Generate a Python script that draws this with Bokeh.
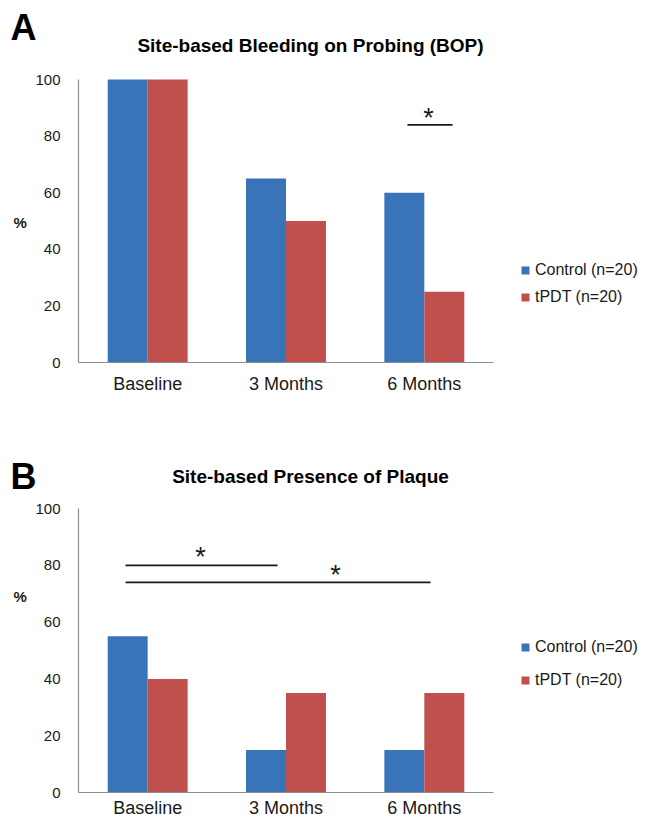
from bokeh.plotting import figure
from bokeh.layouts import column
from bokeh.models import (Range1d, Label, Legend, LegendItem, LinearAxis,
                          ColumnDataSource, FixedTicker)
from bokeh.core.properties import value
from bokeh.embed import file_html
from bokeh.resources import INLINE

# ---- data ----
categories = ["Baseline", "3 Months", "6 Months"]
series_names = ["Control (n=20)", "tPDT (n=20)"]
bop_control = [100, 65, 60]
bop_tpdt = [100, 50, 25]
plaque_control = [55, 15, 15]
plaque_tpdt = [40, 35, 35]
y_ticks = [0, 20, 40, 60, 80, 100]

# significance brackets: from category, to category, level (%)
bop_sig_from = ["6 Months"]
bop_sig_to = ["6 Months"]
bop_sig_level = [84]
bop_star_cat = ["6 Months"]
bop_star_level = [91.5]

plaque_sig_from = ["Baseline", "Baseline"]
plaque_sig_to = ["3 Months", "6 Months"]
plaque_sig_level = [80, 74]
plaque_star_cat = ["Baseline", "3 Months"]
plaque_star_level = [88, 81.7]

BLUE = "#3A74B8"
RED = "#C0504D"
AXIS = "#8E8E8E"
TXT = "#1a1a1a"
FONT = "Liberation Sans"

W = 652
PX_PER_CAT = 138.33   # horizontal size of one category
ORIGIN_X = 78         # pixel of the value axis


def make_chart(ctrl, tpdt, title, letter, height, origin_y, px_per_unit,
               legend_y, legend_spacing, sig, stars, letter_y, title_y, pct_y,
               xlabel_standoff):
    # frame covers the whole canvas; axes are placed at fixed locations
    x0 = -ORIGIN_X / PX_PER_CAT
    y0 = -(height - origin_y) / px_per_unit
    p = figure(x_range=Range1d(x0, x0 + W / PX_PER_CAT),
               y_range=Range1d(y0, y0 + height / px_per_unit),
               width=W, height=height, min_border=0, title=None,
               x_axis_location=None, y_axis_location=None,
               output_backend="svg", toolbar_location=None)
    p.xgrid.visible = False
    p.ygrid.visible = False
    p.outline_line_color = None
    p.background_fill_color = "white"
    p.border_fill_color = "white"

    n = len(categories)
    centers = [i + 0.5 for i in range(n)]
    src = ColumnDataSource(dict(xc=[c - 0.1445 for c in centers],
                                xt=[c + 0.1445 for c in centers],
                                ctrl=ctrl, tpdt=tpdt))
    r1 = p.vbar(x="xc", top="ctrl", width=0.289, source=src,
                fill_color=BLUE, line_color=None)
    r2 = p.vbar(x="xt", top="tpdt", width=0.289, source=src,
                fill_color=RED, line_color=None)

    xaxis = LinearAxis(fixed_location=0, bounds=(0, n),
                       ticker=FixedTicker(ticks=centers),
                       major_label_overrides={c: cat for c, cat in
                                              zip(centers, categories)})
    yaxis = LinearAxis(fixed_location=0, bounds=(0, 100),
                       ticker=FixedTicker(ticks=y_ticks))
    for ax in (xaxis, yaxis):
        ax.axis_line_color = AXIS
        ax.axis_line_width = 1.2
        ax.major_tick_line_color = None
        ax.minor_tick_line_color = None
        ax.major_tick_out = 0
        ax.major_tick_in = 0
        ax.major_label_text_font = FONT
        ax.major_label_text_color = TXT
    yaxis.major_label_text_font_size = "15px"
    yaxis.major_label_standoff = 18
    xaxis.major_label_text_font_size = "18px"
    xaxis.major_label_standoff = xlabel_standoff
    p.add_layout(xaxis, "below")
    p.add_layout(yaxis, "left")

    legend = Legend(items=[LegendItem(label=series_names[0], renderers=[r1]),
                           LegendItem(label=series_names[1], renderers=[r2])],
                    location=(520, legend_y), border_line_color=None,
                    background_fill_alpha=0, padding=0, margin=0,
                    glyph_width=10, glyph_height=10, label_standoff=5,
                    label_height=20, spacing=legend_spacing,
                    label_text_font=FONT, label_text_font_size="16px",
                    label_text_color=TXT)
    p.add_layout(legend)

    # significance lines
    s_from, s_to, s_lvl, off0, off1 = sig
    sx0 = [categories.index(c) + 0.5 + o for c, o in zip(s_from, off0)]
    sx1 = [categories.index(c) + 0.5 + o for c, o in zip(s_to, off1)]
    p.segment(x0=sx0, y0=s_lvl, x1=sx1, y1=s_lvl, line_color=TXT,
              line_width=1.8)
    st_cat, st_lvl, st_off = stars
    tx = [categories.index(c) + 0.5 + o for c, o in zip(st_cat, st_off)]
    ty = [l - 5.2 for l in st_lvl]
    p.text(x=tx, y=ty, text=["*"] * len(tx), text_align="center",
           text_baseline="alphabetic", text_font=value(FONT),
           text_font_size="27px", text_color=TXT)

    p.add_layout(Label(x=10, y=letter_y, x_units="screen", y_units="screen",
                       text=letter, text_font=FONT, text_font_size="36px",
                       text_font_style="bold", text_color="black"))
    p.add_layout(Label(x=310, y=title_y, x_units="screen", y_units="screen",
                       text=title, text_font=FONT, text_font_size="19px",
                       text_font_style="bold", text_align="center",
                       text_color="black"))
    p.add_layout(Label(x=13, y=pct_y, x_units="screen", y_units="screen",
                       text="%", text_font=FONT, text_font_size="15px",
                       text_font_style="bold", text_color=TXT))
    return p


pA = make_chart(bop_control, bop_tpdt,
                "Site-based Bleeding on Probing (BOP)", "A",
                height=404, origin_y=362, px_per_unit=2.83,
                legend_y=97, legend_spacing=7,
                sig=(bop_sig_from, bop_sig_to, bop_sig_level, [-0.122], [0.204]),
                stars=(bop_star_cat, bop_star_level, [0.03]),
                letter_y=357, title_y=349, pct_y=174, xlabel_standoff=11)
pB = make_chart(plaque_control, plaque_tpdt,
                "Site-based Presence of Plaque", "B",
                height=416, origin_y=388, px_per_unit=2.84,
                legend_y=130, legend_spacing=13,
                sig=(plaque_sig_from, plaque_sig_to, plaque_sig_level,
                     [-0.16, -0.16], [-0.061, 0.045]),
                stars=(plaque_star_cat, plaque_star_level, [0.382, 0.358]),
                letter_y=324, title_y=334, pct_y=216, xlabel_standoff=5)

layout = column(pA, pB, spacing=0)
open("out.html", "w").write(file_html(layout, INLINE))
